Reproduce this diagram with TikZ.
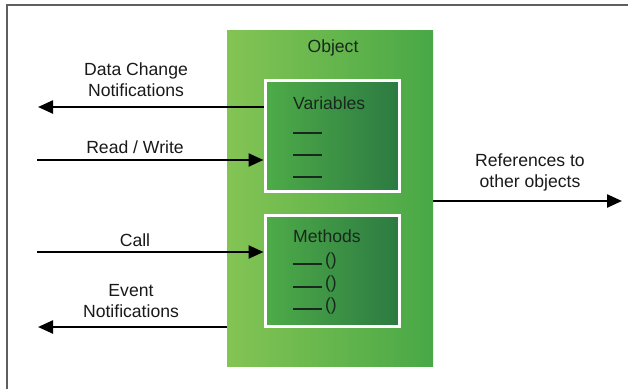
\documentclass[tikz,border=0pt]{standalone}
\usepackage{fontspec}
\setmainfont{Liberation Sans}
\usetikzlibrary{arrows.meta}
\definecolor{outerL}{RGB}{132,196,84}
\definecolor{outerR}{RGB}{72,168,70}
\definecolor{innerL}{RGB}{78,172,72}
\definecolor{innerR}{RGB}{44,122,66}
\definecolor{darktxt}{RGB}{25,40,28}
\definecolor{framegray}{RGB}{95,95,95}
\tikzset{
  lbl/.style={font=\fontsize{17.6}{21}\selectfont, text=black!90, align=center, inner sep=0pt},
  intxt/.style={font=\fontsize{17.6}{21}\selectfont, text=darktxt, inner sep=0pt},
  objbox/.style={draw=none, left color=outerL, right color=outerR, minimum width=206pt, minimum height=336pt, inner sep=0pt},
  innerbox/.style={draw=white, line width=3pt, left color=innerL, right color=innerR, minimum width=134pt, minimum height=111pt, inner sep=0pt},
  arr/.style={line width=2.4pt, -{Triangle[length=15pt,width=13pt]}},
  blank/.style={inner sep=0pt, text=darktxt},
}
\begin{document}
\begin{tikzpicture}[x=1pt,y=-1pt]
\useasboundingbox (0,0) rectangle (628,389);
\draw[framegray, line width=2pt] (7,389) -- (7,5) -- (628,5);
% object
\node[objbox] (obj) at (330,198) {};
\node[intxt] (objlbl) at (333,48) {Object};
\node[innerbox] (vars) at (332,135.5) {};
\node[innerbox] (meths) at (332,270.5) {};
\node[intxt, anchor=west] (varlbl) at (293,103) {Variables};
\node[blank, anchor=west] (v1) at (293,133) {\rule{29pt}{1.8pt}};
\node[blank, anchor=west] (v2) at (293,155) {\rule{29pt}{1.8pt}};
\node[blank, anchor=west] (v3) at (293,177) {\rule{29pt}{1.8pt}};
\node[intxt, anchor=west] (methlbl) at (293,236) {Methods};
\node[intxt, anchor=base west] (m1) at (293,265) {\rule{29pt}{1.8pt}\,()};
\node[intxt, anchor=base west] (m2) at (293,288) {\rule{29pt}{1.8pt}\,()};
\node[intxt, anchor=base west] (m3) at (293,310) {\rule{29pt}{1.8pt}\,()};
% connectors
\coordinate (dcend) at (38,107);
\coordinate (rwstart) at (37,160);
\coordinate (callstart) at (37,252);
\coordinate (evend) at (38,327);
\coordinate (refend) at (622,201);
\draw[arr] (vars.west |- dcend) -- (dcend);
\draw[arr] (rwstart) -- (rwstart -| vars.west);
\draw[arr] (callstart) -- (callstart -| meths.west);
\draw[arr] (obj.west |- evend) -- (evend);
\draw[arr] (obj.east |- refend) -- (refend);
% labels
\node[lbl] (dclbl) at (136,80) {Data Change\\Notifications};
\node[lbl] (rwlbl) at (135,147) {Read / Write};
\node[lbl] (calllbl) at (135,240) {Call};
\node[lbl] (evlbl) at (131,301) {Event\\Notifications};
\node[lbl] (reflbl) at (530,172) {References to\\other objects};
\end{tikzpicture}
\end{document}
